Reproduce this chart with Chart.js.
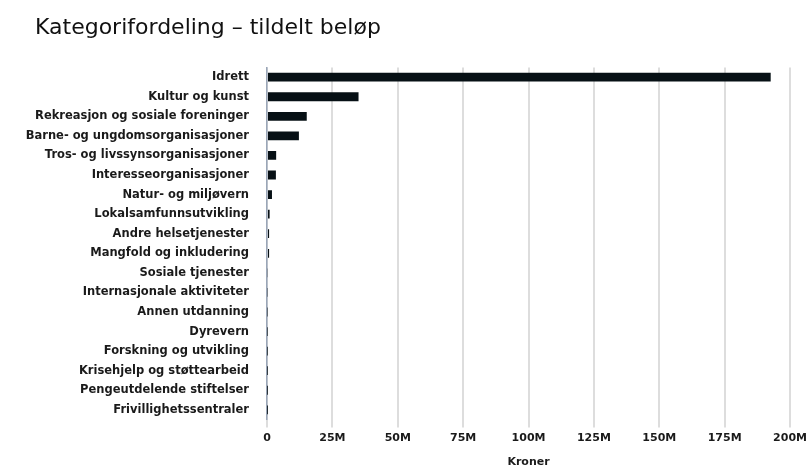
<!DOCTYPE html>
<html lang="no">
<head>
<meta charset="utf-8">
<script src="https://cdn.jsdelivr.net/npm/chart.js@4/dist/chart.umd.min.js"></script>
<style>
  html, body { margin: 0; padding: 0; background: #fff; }
  .wrap { width: 811px; height: 472px; position: relative; }
</style>
</head>
<body>
<div class="wrap"><canvas id="kategori-chart" width="811" height="472"></canvas></div>
<script>
const categories = [
  'Idrett',
  'Kultur og kunst',
  'Rekreasjon og sosiale foreninger',
  'Barne- og ungdomsorganisasjoner',
  'Tros- og livssynsorganisasjoner',
  'Interesseorganisasjoner',
  'Natur- og miljøvern',
  'Lokalsamfunnsutvikling',
  'Andre helsetjenester',
  'Mangfold og inkludering',
  'Sosiale tjenester',
  'Internasjonale aktiviteter',
  'Annen utdanning',
  'Dyrevern',
  'Forskning og utvikling',
  'Krisehjelp og støttearbeid',
  'Pengeutdelende stiftelser',
  'Frivillighetssentraler',
];

// tildelt beløp i kroner
const amounts = [
  192600000, 35000000, 15200000, 12200000, 3500000, 3400000, 1900000,
  1000000, 800000, 800000, 300000, 250000, 200000, 150000, 120000,
  100000, 80000, 60000,
];

const xTicks = [0, 25e6, 50e6, 75e6, 100e6, 125e6, 150e6, 175e6, 200e6];

const fontFamily = "'DejaVu Sans', sans-serif";

// titlen står litt lenger inn enn etikettene
const titleIndent = {
  id: 'titleIndent',
  afterLayout(chart) {
    if (chart.titleBlock) {
      chart.titleBlock.left += 15;
    }
  },
};

new Chart(document.getElementById('kategori-chart'), {
  type: 'bar',
  data: {
    labels: categories,
    datasets: [{
      label: 'Tildelt beløp',
      data: amounts,
      backgroundColor: '#071015',
      borderWidth: 0,
      barPercentage: 0.9,
      categoryPercentage: 0.5,
    }],
  },
  options: {
    indexAxis: 'y',
    responsive: false,
    animation: false,
    layout: { padding: { left: 20, right: 4, top: 4, bottom: 0 } },
    scales: {
      x: {
        min: 0,
        max: 200e6,
        afterBuildTicks(axis) {
          axis.ticks = xTicks.map(v => ({ value: v }));
        },
        ticks: {
          color: '#1a1a1a',
          padding: 4,
          font: { family: fontFamily, size: 11, weight: 'bold' },
          callback(v) { return v === 0 ? '0' : (v / 1e6) + 'M'; },
        },
        grid: { color: '#dddddd', lineWidth: 2, tickLength: 8 },
        border: { display: false },
        title: {
          display: true,
          text: 'Kroner',
          color: '#1a1a1a',
          padding: { top: 7, bottom: 3 },
          font: { family: fontFamily, size: 11, weight: 'bold' },
        },
      },
      y: {
        afterFit(axis) {
          axis.width = 247;
        },
        ticks: {
          color: '#1a1a1a',
          padding: 18,
          autoSkip: false,
          font: { family: fontFamily, size: 11.5, weight: 'bold' },
        },
        grid: { display: false, drawTicks: false },
        border: { display: true, color: '#9aa6b8', width: 1.5 },
      },
    },
    plugins: {
      legend: { display: false },
      tooltip: { enabled: false },
      title: {
        display: true,
        text: 'Kategorifordeling – tildelt beløp',
        align: 'start',
        color: '#111',
        padding: { top: 11, bottom: 26 },
        font: { family: fontFamily, size: 22, weight: 'normal' },
      },
    },
  },
  plugins: [titleIndent],
});
</script>
</body>
</html>
